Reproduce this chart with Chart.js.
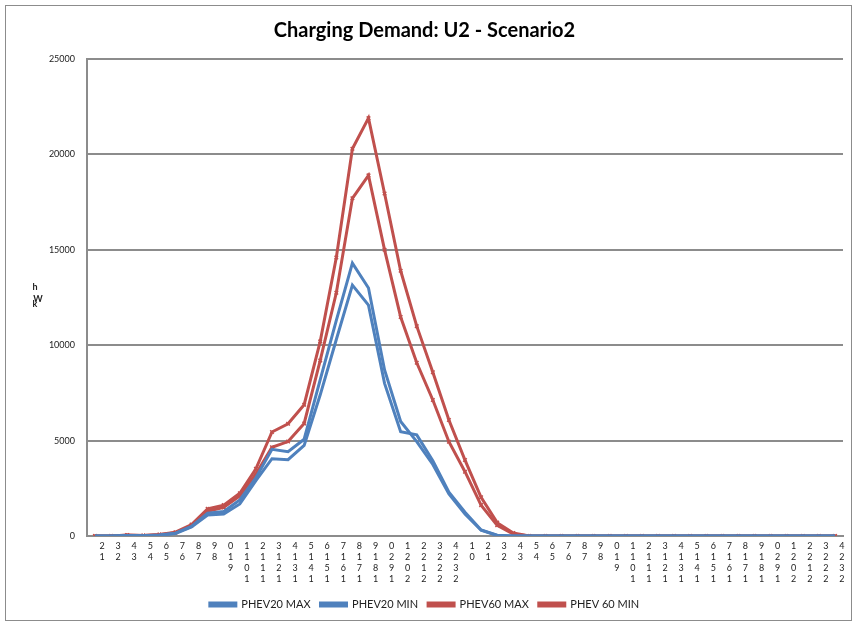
<!DOCTYPE html>
<html>
<head>
<meta charset="utf-8">
<script src="https://cdn.jsdelivr.net/npm/chart.js@4.4.1/dist/chart.umd.min.js"></script>
<style>
  body { margin: 0; background: #fff; }
  #box { position: absolute; left: 5px; top: 5px; width: 845px; height: 614px; border: 1px solid #8c8c8c; }
</style>
</head>
<body>
<div id="box"><canvas id="chart" width="845" height="614"></canvas></div>
<script>
// hour slots, as printed on the axis
const hours = [
  "1-2", "2-3", "3-4", "4-5", "5-6", "6-7", "7-8", "8-9", "9-10", "10-11", "11-12", "12-13",
  "13-14", "14-15", "15-16", "16-17", "17-18", "18-19", "19-20", "20-21", "21-22", "22-23", "23-24",
  "0-1", "1-2", "2-3", "3-4", "4-5", "5-6", "6-7", "7-8", "8-9", "9-10", "10-11", "11-12", "12-13",
  "13-14", "14-15", "15-16", "16-17", "17-18", "18-19", "19-20", "20-21", "21-22", "22-23", "23-24"
];

const phev20Max = [0, 0, 30, 10, 50, 150, 500, 1200, 1280, 1890, 3050, 4540, 4420, 5070, 8200, 11300,
  14300, 13000, 8700, 6000, 4950, 3750, 2200, 1150, 300, 30, 0, 0, 0, 0, 0, 0, 0, 0, 0, 0, 0, 0, 0, 0,
  0, 0, 0, 0, 0, 0, 0];
const phev20Min = [0, 0, 20, 10, 40, 130, 480, 1100, 1150, 1680, 2900, 4050, 4000, 4750, 7400, 10300,
  13150, 12100, 8000, 5470, 5300, 3950, 2300, 1250, 320, 40, 0, 0, 0, 0, 0, 0, 0, 0, 0, 0, 0, 0, 0, 0,
  0, 0, 0, 0, 0, 0, 0];
const phev60Max = [0, 0, 50, 20, 80, 200, 600, 1420, 1620, 2240, 3520, 5450, 5880, 6880, 10200, 14600,
  20300, 21900, 17950, 13900, 11000, 8580, 6080, 3980, 2030, 700, 160, 0, 0, 0, 0, 0, 0, 0, 0, 0, 0, 0,
  0, 0, 0, 0, 0, 0, 0, 0, 0];
const phev60Min = [0, 0, 40, 20, 60, 170, 550, 1300, 1500, 2100, 3250, 4650, 4950, 5900, 9200, 12750,
  17700, 18900, 15000, 11480, 9080, 7130, 4940, 3370, 1620, 560, 100, 0, 0, 0, 0, 0, 0, 0, 0, 0, 0, 0,
  0, 0, 0, 0, 0, 0, 0, 0, 0];

const yTicks = [0, 5000, 10000, 15000, 20000, 25000];

const BLUE = "#4F81BD";
const RED = "#C0504D";
const FONT = "Lato, 'Liberation Sans', sans-serif";

// "kWh" stacked sideways like the original
const yTitle = {
  id: "yTitle",
  afterDraw(chart) {
    const ctx = chart.ctx;
    const mid = (chart.chartArea.top + chart.chartArea.bottom) / 2;
    ctx.save();
    ctx.fillStyle = "#222";
    ctx.font = "bold 9px " + FONT;
    ctx.textAlign = "center";
    ctx.textBaseline = "middle";
    ctx.fillText("h", 29, mid - 10);
    ctx.fillText("W", 32, mid + 2);
    ctx.fillText("k", 29, mid + 7);
    ctx.restore();
  }
};

function line(label, data, color, marks) {
  return {
    label: label,
    data: data,
    borderColor: color,
    backgroundColor: color,
    borderWidth: 3,
    tension: 0,
    pointStyle: "crossRot",
    pointRadius: marks ? 2.5 : 0,
    pointBorderWidth: 1.5,
    pointBorderColor: color
  };
}

new Chart("chart", {
  type: "line",
  data: {
    labels: hours,
    datasets: [
      line("PHEV20 MAX", phev20Max, BLUE, false),
      line("PHEV20 MIN", phev20Min, BLUE, false),
      line("PHEV60 MAX", phev60Max, RED, true),
      line("PHEV 60 MIN", phev60Min, RED, true)
    ]
  },
  options: {
    responsive: false,
    animation: false,
    layout: { padding: { left: 0, right: 8, top: 0, bottom: 0 } },
    plugins: {
      title: {
        display: true,
        text: "Charging Demand: U2 - Scenario2",
        color: "#000",
        font: { family: FONT, size: 20, weight: "bold" },
        padding: { top: 13, bottom: 16 }
      },
      legend: {
        position: "bottom",
        labels: {
          color: "#222",
          font: { family: FONT, size: 11 },
          boxWidth: 26,
          boxHeight: 3,
          padding: 10
        }
      },
      tooltip: { enabled: false }
    },
    scales: {
      x: {
        offset: true,
        grid: { display: false, drawTicks: false },
        border: { color: "#8c8c8c", width: 2 },
        afterFit: function (scale) { scale.height = 53; },
        ticks: {
          autoSkip: false,
          maxRotation: 0,
          minRotation: 0,
          padding: 5,
          labelOffset: 7,
          color: "#222",
          font: { family: FONT, size: 9, lineHeight: 1.2 },
          callback: function (value) {
            return this.getLabelForValue(value).replace("-", "").split("").reverse();
          }
        }
      },
      y: {
        min: 0,
        max: 25000,
        afterFit: function (scale) { scale.width = 81; },
        afterBuildTicks: function (scale) { scale.ticks = yTicks.map(v => ({ value: v })); },
        grid: { color: "#8c8c8c", lineWidth: 2, drawTicks: false },
        border: { color: "#8c8c8c", width: 2 },
        ticks: {
          padding: 12,
          color: "#222",
          font: { family: FONT, size: 9 },
          callback: function (value) { return String(value); }
        }
      }
    }
  },
  plugins: [yTitle]
});
</script>
</body>
</html>
